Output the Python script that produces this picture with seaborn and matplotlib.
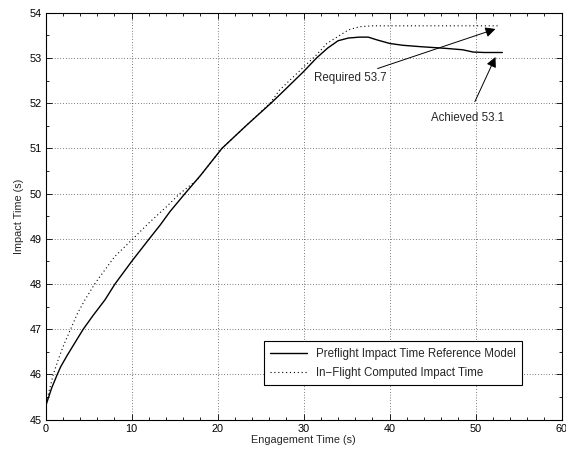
import matplotlib
matplotlib.use("Agg")
import matplotlib.pyplot as plt
import seaborn as sns
import pandas as pd
from matplotlib.ticker import MultipleLocator

# Data
pre_x = [0, 0.7, 1.35, 1.75, 2.5, 3.4, 4.37, 5.5, 6.9, 8.06, 10, 12.05, 13.3, 14.45,
         16.2, 18, 20.5, 23.3, 26.2, 27.3, 30, 31.5, 32.8, 34.0, 35.2, 36.5, 37.5,
         38.5, 40, 41.5, 43.5, 46.6, 48.5, 49.7, 51, 53.1]
pre_y = [45.3, 45.7, 46.0, 46.17, 46.42, 46.7, 47.0, 47.3, 47.65, 48.0, 48.5, 49.0,
         49.3, 49.6, 50.0, 50.4, 51.0, 51.5, 52.0, 52.2, 52.7, 53.0, 53.22, 53.38,
         53.44, 53.46, 53.46, 53.4, 53.32, 53.28, 53.25, 53.21, 53.18, 53.13, 53.12, 53.12]

inf_x = [0, 0.42, 0.89, 1.5, 2.1, 2.9, 3.7, 4.57, 5.7, 6.3, 8, 10.15, 12, 14, 15.6,
         17.6, 20.5, 23.3, 26.1, 27.2, 30, 31.5, 32.7, 34.2, 35.2, 36.5, 38, 42, 46,
         50, 52.6]
inf_y = [45.3, 45.65, 46.0, 46.35, 46.65, 47.0, 47.35, 47.65, 48.0, 48.16, 48.6, 49.0,
         49.35, 49.7, 50.0, 50.3, 51.0, 51.5, 52.0, 52.29, 52.8, 53.07, 53.32, 53.5,
         53.62, 53.69, 53.71, 53.71, 53.71, 53.71, 53.71]

labels = ["Preflight Impact Time Reference Model", "In\u2212Flight Computed Impact Time"]
x_ticks = [0, 10, 20, 30, 40, 50, 60]
y_ticks = [45, 46, 47, 48, 49, 50, 51, 52, 53, 54]

sns.set_theme(style="white")
plt.rcParams['font.family'] = ['Liberation Sans', 'DejaVu Sans']
plt.rcParams['font.size'] = 7.5

fig = plt.figure(figsize=(5.66, 4.54), dpi=100)
ax = fig.add_axes([0.0807, 0.0758, 0.9117, 0.8962])

df_pre = pd.DataFrame({"x": pre_x, "y": pre_y})
df_inf = pd.DataFrame({"x": inf_x, "y": inf_y})
sns.lineplot(data=df_pre, x="x", y="y", ax=ax, color="black", lw=1.0,
             label=labels[0], sort=False)
sns.lineplot(data=df_inf, x="x", y="y", ax=ax, color="black", lw=0.8,
             linestyle=(0, (1, 2.5)), label=labels[1], sort=False)

ax.set_xlim(0, 60)
ax.set_ylim(45, 54)
ax.set_xticks(x_ticks)
ax.set_yticks(y_ticks)
ax.xaxis.set_minor_locator(MultipleLocator(2))
ax.yaxis.set_minor_locator(MultipleLocator(0.5))
ax.tick_params(which='both', direction='in', top=True, right=True, bottom=True, left=True,
               colors='black', labelsize=7.8, width=0.6, pad=3)
ax.tick_params(which='major', length=4)
ax.tick_params(which='minor', length=2)
ax.grid(True, which='major', color='black', linestyle=(0, (1, 3)), linewidth=0.5)
for s in ax.spines.values():
    s.set_color('black')
    s.set_linewidth(0.8)

ax.set_xlabel("Engagement Time (s)", fontsize=7.8, labelpad=1)
ax.set_ylabel("Impact Time (s)", fontsize=7.8, labelpad=4)

ax.annotate("Required 53.7", xy=(52.3, 53.64), xytext=(39.6, 52.56),
            ha='right', va='center', fontsize=8.3,
            arrowprops=dict(arrowstyle='-|>', color='black', lw=0.7,
                            mutation_scale=15, shrinkA=0, shrinkB=0))
ax.annotate("Achieved 53.1", xy=(52.3, 53.02), xytext=(49.0, 51.66),
            ha='center', va='center', fontsize=8.3,
            arrowprops=dict(arrowstyle='-|>', color='black', lw=0.7,
                            mutation_scale=15, shrinkA=6, shrinkB=0))

leg = ax.legend(loc='lower right', bbox_to_anchor=(0.924, 0.085), borderaxespad=0,
                fontsize=8.3, frameon=True, fancybox=False, framealpha=1,
                edgecolor='black', handlelength=3.2, borderpad=0.55, labelspacing=0.6)
leg.get_frame().set_linewidth(0.8)

fig.savefig("out.png", dpi=100)
